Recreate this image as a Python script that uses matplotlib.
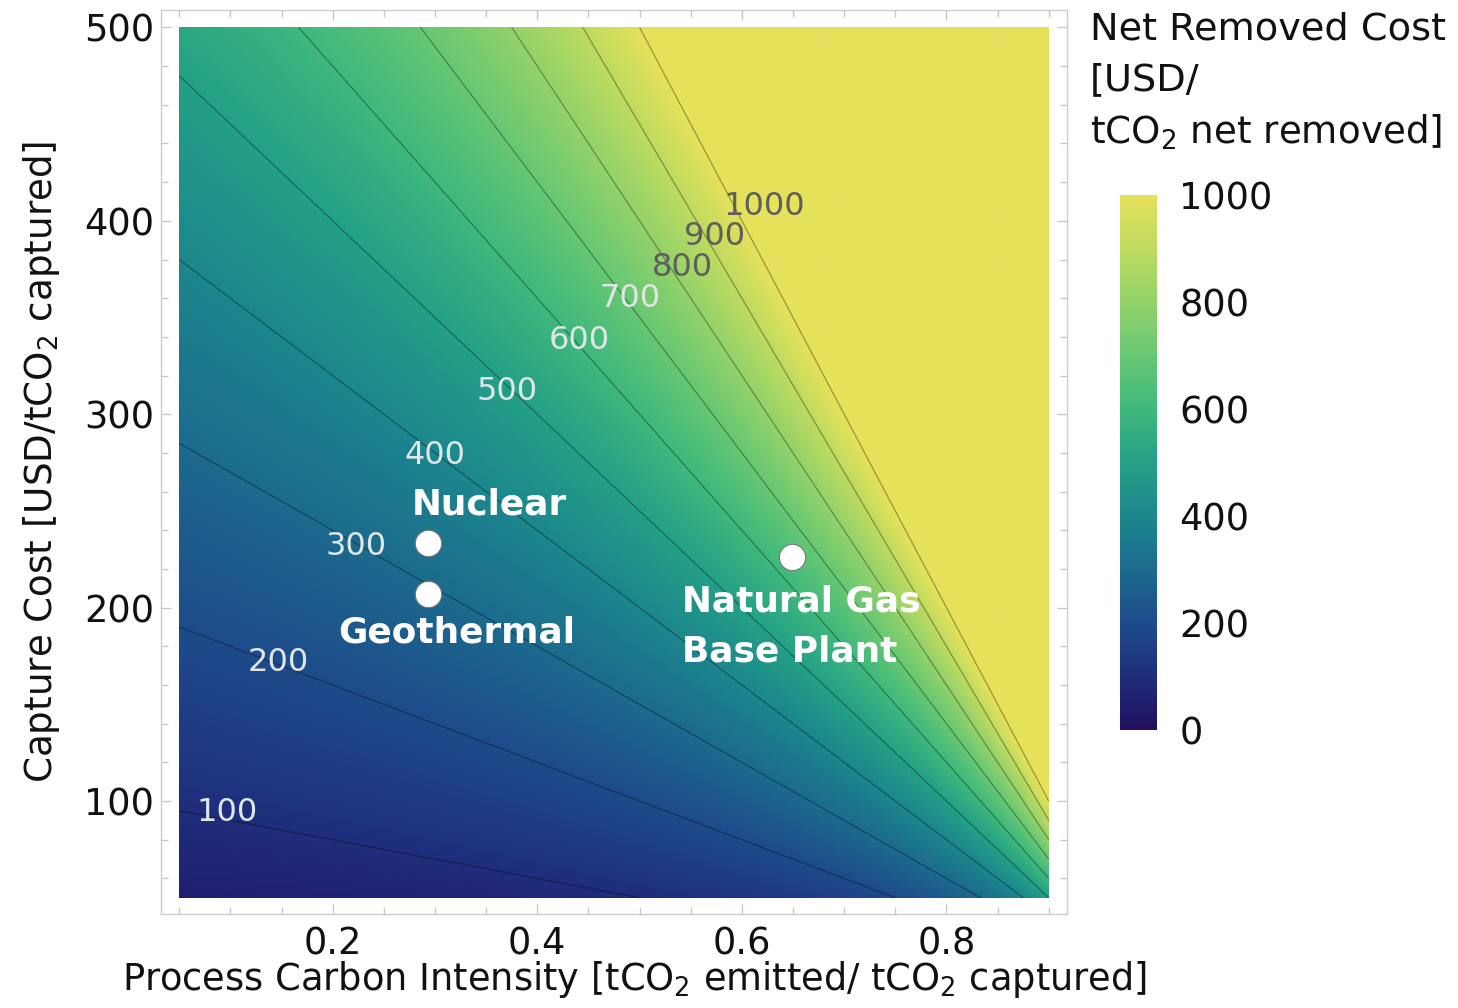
import numpy as np
import matplotlib
matplotlib.use("Agg")
import matplotlib.pyplot as plt
from matplotlib.colors import LinearSegmentedColormap, Normalize

# ---------------- data ----------------
intensity_range = [0.05, 0.9]          # process carbon intensity (x)
capture_range = [50, 500]              # capture cost (y)
contour_levels = [100, 200, 300, 400, 500, 600, 700, 800, 900, 1000]
color_limits = [0, 1000]

label_values = ["100", "200", "300", "400", "500", "600", "700", "800", "900", "1000"]
label_x = [0.097, 0.147, 0.223, 0.300, 0.370, 0.441, 0.491, 0.5416, 0.5736, 0.622]
label_y = [93.9, 171.6, 231.8, 278.8, 312.0, 338.3, 359.7, 375.9, 391.8, 407.3]
label_dark = [False, False, False, False, False, False, False, True, True, True]

plant_intensity = [0.293, 0.293, 0.649]
plant_capture = [233.3, 206.9, 226.0]

plant_text = ["Nuclear", "Geothermal", "Natural Gas", "Base Plant"]
plant_text_x = [0.353, 0.321, 0.5416, 0.5416]
plant_text_y = [253.2, 187.2, 203.4, 177.5]
plant_text_ha = ["center", "center", "left", "left"]

x_ticks = [0.2, 0.4, 0.6, 0.8]
x_tick_labels = ["0.2", "0.4", "0.6", "0.8"]
y_ticks = [100, 200, 300, 400, 500]
cbar_ticks = [0, 200, 400, 600, 800, 1000]

# Mathematica-like BlueGreenYellow palette
cmap_colors = ["#22105f", "#1f2e7c", "#1e4c8b", "#1c6b8e", "#1c878d", "#24a086",
               "#3fb87d", "#66c773", "#93d26a", "#bedb60", "#e6e15a"]

# ---------------- figure ----------------
plt.rcParams["font.family"] = ["DejaVu Sans"]
plt.rcParams["mathtext.fontset"] = "dejavusans"

W, H = 1458, 1008
fig = plt.figure(figsize=(W / 100, H / 100), dpi=100)

def fx(px):
    return px / W

def fy(py):
    return 1 - py / H

ax = fig.add_axes([fx(161), fy(914), fx(1067) - fx(161), fy(10) - fy(914)])

xs = np.linspace(intensity_range[0], intensity_range[1], 700)
ys = np.linspace(capture_range[0], capture_range[1], 700)
X, Y = np.meshgrid(xs, ys)
Z = Y / (1 - X)  # net removed cost = capture cost / net fraction removed

cmap = LinearSegmentedColormap.from_list("bgy", cmap_colors)
norm = Normalize(vmin=color_limits[0], vmax=color_limits[1])
im = ax.imshow(np.clip(Z, *color_limits), origin="lower", cmap=cmap, norm=norm,
               extent=[intensity_range[0], intensity_range[1], capture_range[0], capture_range[1]],
               aspect="auto", interpolation="bilinear", zorder=1)
ax.contour(X, Y, Z, levels=contour_levels, colors="black", linewidths=0.9, alpha=0.34, zorder=2)

for t, x, y, d in zip(label_values, label_x, label_y, label_dark):
    ax.text(x, y, t, ha="center", va="center", fontsize=23,
            color="#5e5e5e" if d else "#dfe6e6", zorder=4)

ax.scatter(plant_intensity, plant_capture, s=19 ** 2, c="white", edgecolors="#777777",
           linewidths=0.8, zorder=5)
for t, x, y, ha in zip(plant_text, plant_text_x, plant_text_y, plant_text_ha):
    ax.text(x, y, t, ha=ha, va="center", fontsize=25.8, fontweight="bold", color="white", zorder=6)

xpad = 0.0178
ypad = 9.0
ax.set_xlim(intensity_range[0] - xpad, intensity_range[1] + xpad)
ax.set_ylim(capture_range[0] - ypad * 0.93, capture_range[1] + ypad)

for s in ax.spines.values():
    s.set_color("#cccccc")
    s.set_linewidth(1.0)

ax.set_xticks(x_ticks)
ax.set_xticklabels(x_tick_labels)
ax.set_yticks(y_ticks)
ax.set_xticks(np.arange(0.05, 0.9001, 0.05), minor=True)
ax.set_yticks(np.arange(60, 500.1, 20), minor=True)
ax.tick_params(which="both", direction="in", color="#c8c8c8", top=True, right=True,
               labelsize=26.5, labelcolor="#111111")
ax.tick_params(which="major", length=7, width=1)
ax.tick_params(which="minor", length=5, width=1)
ax.tick_params(axis="x", pad=8)
ax.tick_params(axis="y", pad=5)

fig.text(fx(635), fy(980), "Process Carbon Intensity [tCO$_2$ emitted/ tCO$_2$ captured]",
         ha="center", va="center", fontsize=26.5, color="#111111")
fig.text(fx(42), fy(462), "Capture Cost [USD/tCO$_2$ captured]", rotation=90,
         ha="center", va="center", fontsize=26.8, color="#111111")

# colorbar
cax = fig.add_axes([fx(1120), fy(730), fx(1157) - fx(1120), fy(195) - fy(730)])
cb = fig.colorbar(im, cax=cax, ticks=cbar_ticks)
cb.outline.set_visible(False)
cax.tick_params(length=0, pad=16, labelsize=26.5, labelcolor="#111111")

fig.text(fx(1090), fy(30), "Net Removed Cost", ha="left", va="center", fontsize=27.5, color="#111111")
fig.text(fx(1090), fy(80), "[USD/", ha="left", va="center", fontsize=27.5, color="#111111")
fig.text(fx(1090), fy(132), "tCO$_2$ net removed]", ha="left", va="center", fontsize=26.8, color="#111111")

fig.savefig("out.png", dpi=100)
